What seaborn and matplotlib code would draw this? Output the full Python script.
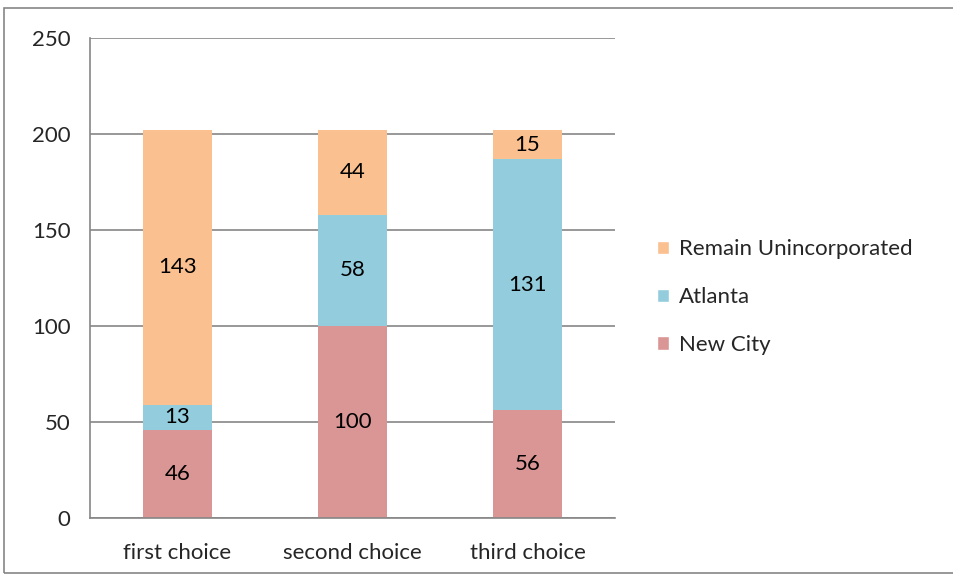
import matplotlib
matplotlib.use("Agg")
import matplotlib.pyplot as plt
import seaborn as sns
import numpy as np
from matplotlib.patches import Rectangle, Patch

# data
choices = ["first choice", "second choice", "third choice"]
new_city = [46, 100, 56]
atlanta = [13, 58, 131]
remain = [143, 44, 15]

series_names = ["New City", "Atlanta", "Remain Unincorporated"]
series_vals = [new_city, atlanta, remain]
colors = ["#D99694", "#93CDDD", "#FAC090"]

sns.set_style("white")
plt.rcParams["font.family"] = ["Lato", "DejaVu Sans"]

fig = plt.figure(figsize=(9.54, 5.77), dpi=100)
ax = fig.add_axes([90 / 954, 1 - 518 / 577, 525 / 954, 480 / 577])

bottom = np.zeros(len(choices))
for name, vals, col in zip(series_names, series_vals, colors):
    sns.barplot(x=choices, y=vals, bottom=bottom, color=col, width=0.395,
                ax=ax, label=name, zorder=2, linewidth=0, saturation=1)
    for i, v in enumerate(vals):
        ax.text(i, bottom[i] + v / 2, str(v), ha="center", va="center",
                fontsize=16, color="black", zorder=3)
    bottom = bottom + np.array(vals)

ax.set_xlim(-0.5, 2.5)
ax.set_ylim(0, 250)
ax.set_yticks(range(0, 251, 50))
ax.yaxis.grid(True, color="#868686", linewidth=1.2, zorder=0)
ax.set_axisbelow(True)

for s in ["top", "right"]:
    ax.spines[s].set_visible(False)
for s in ["left", "bottom"]:
    ax.spines[s].set_color("#868686")
    ax.spines[s].set_linewidth(1.2)

ax.set_xticks([-0.5, 0.5, 1.5, 2.5], minor=True)
ax.tick_params(axis="x", which="major", length=0, pad=18, labelsize=16)
ax.tick_params(axis="x", which="minor", length=6, width=1.2, color="#868686",
               direction="out")
ax.tick_params(axis="y", length=6, width=1.2, color="#868686", direction="out",
               labelsize=16, pad=8)
ax.set_xlabel("")
ax.set_ylabel("")

handles = [Patch(facecolor=c, label=n) for n, c in zip(series_names, colors)][::-1]
ax.legend(handles=handles, loc="center left", bbox_to_anchor=(1.08, 0.46),
          frameon=False, fontsize=16, handlelength=0.55, handleheight=0.55,
          handletextpad=0.45, labelspacing=1.25, borderaxespad=0, borderpad=0)

fig.patches.append(Rectangle((4 / 954, 4 / 577), 1.0, 1 - 12 / 577,
                             transform=fig.transFigure, fill=False,
                             edgecolor="#868686", linewidth=1.2))

fig.savefig("out.png", dpi=100)
